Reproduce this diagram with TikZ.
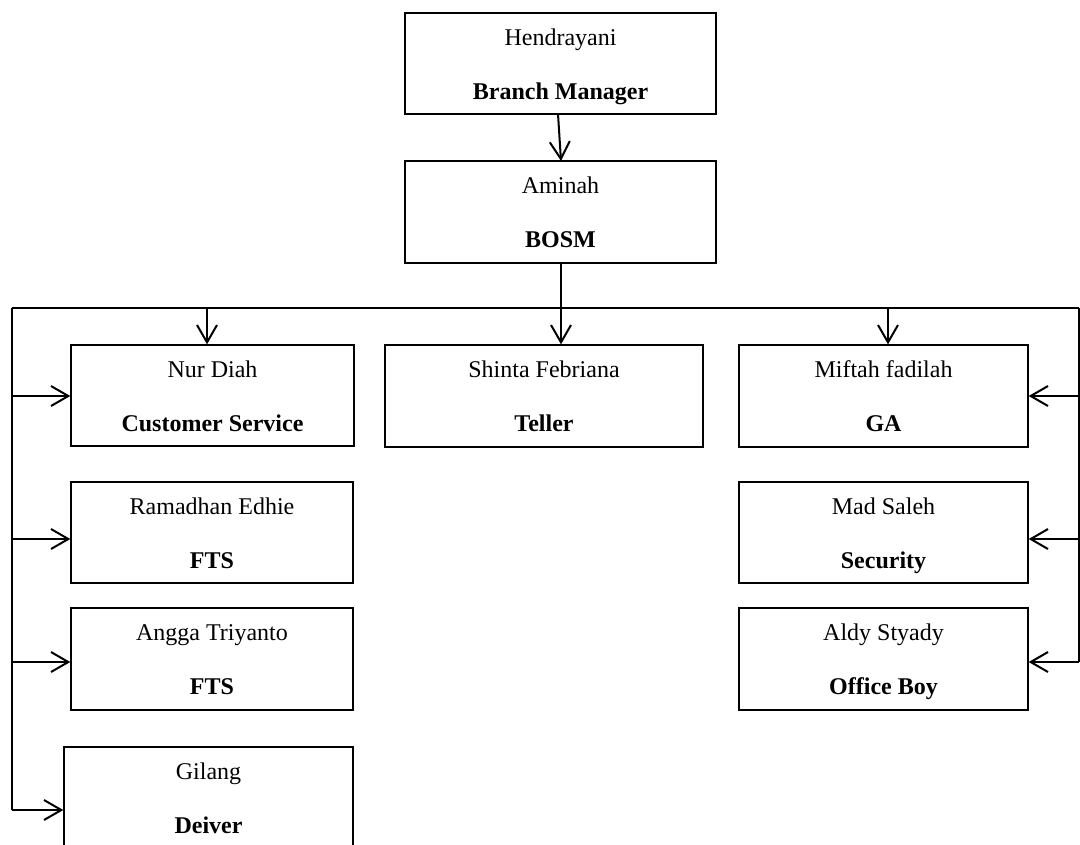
\documentclass[tikz,border=0pt]{standalone}
\usepackage{fontspec}
\setmainfont{Liberation Serif}
\usetikzlibrary{arrows.meta}
\tikzset{
  box/.style={draw=black, line width=1pt, inner sep=0pt, fill=white},
  conn/.style={draw=black, line width=1.5pt},
  arr/.style={conn, -{Straight Barb[length=13pt,width=15pt]}},
  nametext/.style={anchor=base, inner sep=0pt, font=\fontsize{18}{20}\selectfont},
  roletext/.style={anchor=base, inner sep=0pt, font=\fontsize{18}{20}\selectfont\bfseries},
}
\newcommand\orgbox[7]{%
  \node[box, minimum width={(#4-#2)*0.75pt}, minimum height={(#5-#3)*0.75pt}] (#1) at ({(#2+#4)/2},{(#3+#5)/2}) {};
  \node[nametext] (#1n) at ([yshift=-33*0.75pt]#1.north) {#6};
  \node[roletext] (#1r) at ([yshift=-87*0.75pt]#1.north) {#7};
}
\begin{document}
\begin{tikzpicture}[x=0.75pt,y=-0.75pt]
\clip (0,0) rectangle (1080,844);
\fill[white] (0,0) rectangle (1080,844);
\orgbox{hb}{405}{13}{716}{114}{Hendrayani}{Branch Manager}
\orgbox{am}{405}{161}{716}{263}{Aminah}{BOSM}
\orgbox{nd}{71}{345}{354}{446}{Nur Diah}{Customer Service}
\orgbox{sf}{385}{345}{703}{447}{Shinta Febriana}{Teller}
\orgbox{mf}{739}{345}{1028}{447}{Miftah fadilah}{GA}
\orgbox{re}{71}{482}{353}{583}{Ramadhan Edhie}{FTS}
\orgbox{at}{71}{608}{353}{710}{Angga Triyanto}{FTS}
\orgbox{gl}{64}{747}{353}{849}{Gilang}{Deiver}
\orgbox{ms}{739}{482}{1028}{583}{Mad Saleh}{Security}
\orgbox{ay}{739}{608}{1028}{710}{Aldy Styady}{Office Boy}
% bus
\coordinate (busL) at (12,308);
\coordinate (busR) at (1079,308);
\coordinate (leftEnd) at (12,810);
\coordinate (rightEnd) at (1079,662);
\draw[conn] (busL) -- (busR);
\draw[conn] (busL) -- (leftEnd);
\draw[conn] (busR) -- (rightEnd);
% top arrows
\coordinate (hbOut) at (558,114);
\coordinate (amIn) at (561,161);
\draw[arr] (hbOut) -- (amIn);
\coordinate (amOut) at (561,263);
\draw[arr] (amOut) -- (amOut |- sf.north);
\coordinate (ndTap) at (207,308);
\draw[arr] (ndTap) -- (ndTap |- nd.north);
\coordinate (mfTap) at (888,308);
\draw[arr] (mfTap) -- (mfTap |- mf.north);
% left arrows
\coordinate (l1) at (12,396);
\coordinate (l2) at (12,539);
\coordinate (l3) at (12,662);
\draw[arr] (l1) -- (l1 -| nd.west);
\draw[arr] (l2) -- (l2 -| re.west);
\draw[arr] (l3) -- (l3 -| at.west);
\draw[arr] (leftEnd) -- (leftEnd -| gl.west);
% right arrows
\coordinate (r1) at (1079,396);
\coordinate (r2) at (1079,539);
\draw[arr] (r1) -- (r1 -| mf.east);
\draw[arr] (r2) -- (r2 -| ms.east);
\draw[arr] (rightEnd) -- (rightEnd -| ay.east);
\end{tikzpicture}
\end{document}
